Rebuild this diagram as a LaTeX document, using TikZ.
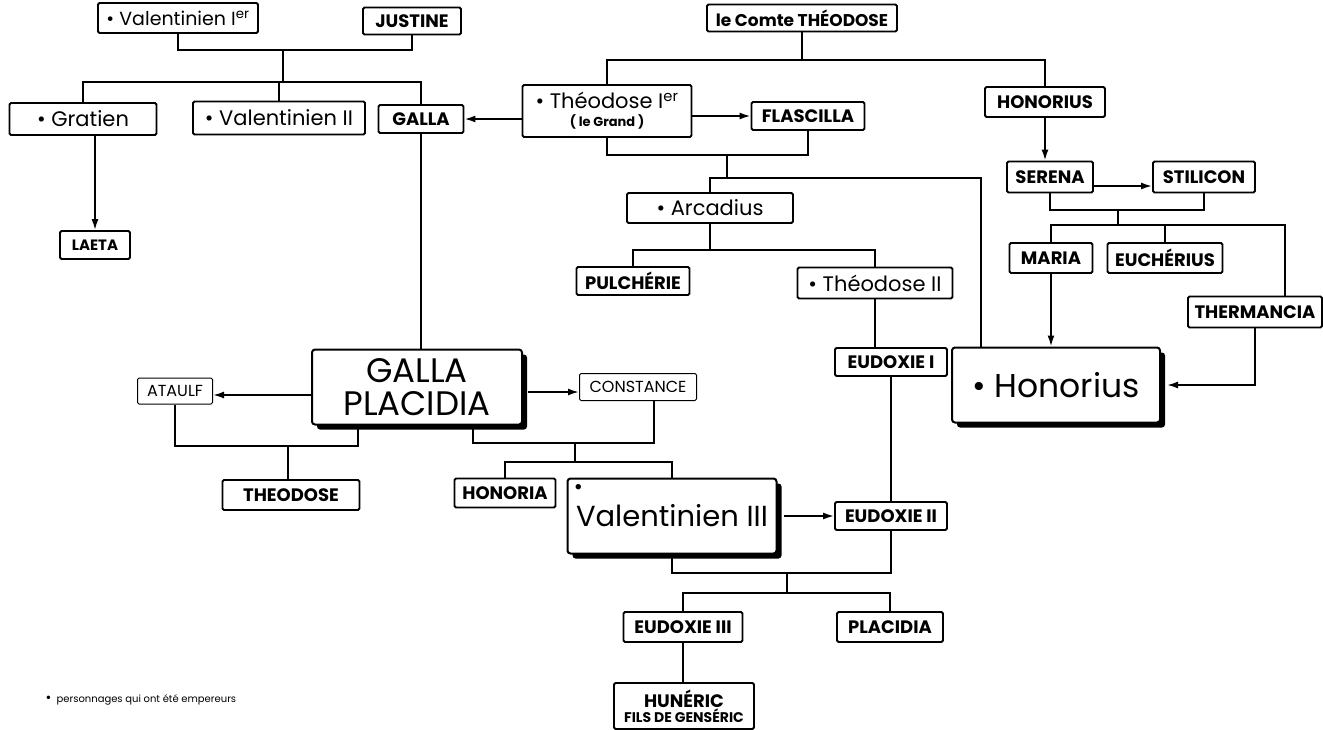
\documentclass[tikz,border=0pt]{standalone}
\usepackage{fontspec}
\setmainfont{Poppins}
\usetikzlibrary{arrows.meta,shadows,positioning}

\begin{document}
\begin{tikzpicture}[x=1pt,y=-1pt,
    person/.style={draw, line width=1.8pt, rounded corners=1.5pt, inner sep=1pt,
      font=\bfseries\fontsize{18}{19}\selectfont},
    faint/.style={person, line width=1pt, font=\fontsize{16}{17}\selectfont},
    ruler/.style={person, font=\fontsize{21}{23}\selectfont},
    bigbox/.style={draw, line width=2pt, rounded corners=3pt, fill=white, align=center,
      drop shadow={shadow xshift=5pt, shadow yshift=-5pt, fill=black, opacity=1},
      font=\fontsize{33}{34}\selectfont},
    link/.style={line width=1.8pt},
    tolink/.style={link, -{Latex[length=11pt,width=7pt]}}]
  \useasboundingbox (0,0) rectangle (1323,729);

  % first generation
  \node[ruler, minimum width=160pt, minimum height=30pt, font=\fontsize{19}{21}\selectfont] (vali) at (178,18) {\textbullet\ Valentinien I\textsuperscript{er}};
  \node[person, minimum width=98pt, minimum height=27pt] (justine) at (412,21) {JUSTINE};
  \node[person, minimum width=190pt, minimum height=27pt] (comte) at (802,18) {\fontsize{17}{18}\selectfont le Comte THÉODOSE};

  % second generation
  \node[ruler, minimum width=147pt, minimum height=32pt] (gratien) at (83,119) {\textbullet\ Gratien};
  \node[ruler, minimum width=172pt, minimum height=33pt] (valii) at (279,118) {\textbullet\ Valentinien II};
  \node[person, minimum width=85pt, minimum height=28pt] (galla) at (421,119) {GALLA};
  \node[ruler, minimum width=169pt, minimum height=52pt, align=center] (theoi) at (607,111)
    {\textbullet\ Théodose I\textsuperscript{er}\\[-5pt]{\bfseries\fontsize{13}{14}\selectfont ( le Grand )}};
  \node[person, minimum width=113pt, minimum height=28pt] (flascilla) at (808,116) {FLASCILLA};
  \node[person, minimum width=120pt, minimum height=30pt] (honoriusf) at (1045,102) {HONORIUS};
  \node[person, minimum width=70pt, minimum height=28pt, font=\bfseries\fontsize{15}{16}\selectfont] (laeta) at (95,245) {LAETA};

  % third generation
  \node[ruler, minimum width=166pt, minimum height=30pt] (arcadius) at (710,208) {\textbullet\ Arcadius};
  \node[person, minimum width=113pt, minimum height=28pt] (pulcherie) at (633,281) {PULCHÉRIE};
  \node[ruler, minimum width=155pt, minimum height=31pt] (theoii) at (875,283) {\textbullet\ Théodose II};
  \node[person, minimum width=86pt, minimum height=31pt] (serena) at (1050,177) {SERENA};
  \node[person, minimum width=102pt, minimum height=31pt] (stilicon) at (1204,177) {STILICON};
  \node[person, minimum width=83pt, minimum height=30pt] (maria) at (1051,258) {MARIA};
  \node[person, minimum width=115pt, minimum height=30pt] (eucherius) at (1165,258) {EUCHÉRIUS};
  \node[person, minimum width=134pt, minimum height=31pt] (thermancia) at (1255,312) {THERMANCIA};
  \node[person, minimum width=112pt, minimum height=28pt] (eudoxiei) at (891,362) {EUDOXIE I};

  % the three framed rulers
  \node[bigbox, minimum width=208pt, minimum height=75pt] (honorius) at (1056,385) {\textbullet\ Honorius};
  \node[bigbox, minimum width=210pt, minimum height=75pt, font=\fontsize{34}{33}\selectfont] (placidia) at (417,387) {GALLA\\PLACIDIA};
  \node[bigbox, minimum width=209pt, minimum height=75pt, font=\fontsize{29}{30}\selectfont] (valiii) at (672,516) {Valentinien III};
  \node[font=\fontsize{22}{22}\selectfont] (valiiidot) at ([xshift=12pt,yshift=-12pt]valiii.north west) {\textbullet};

  \node[faint, minimum width=75pt, minimum height=26pt] (ataulf) at (175,391) {ATAULF};
  \node[faint, minimum width=117pt, minimum height=27pt] (constance) at (638,387) {CONSTANCE};
  \node[person, minimum width=137pt, minimum height=30pt] (theodose) at (291,495) {THEODOSE};
  \node[person, minimum width=101pt, minimum height=29pt] (honoria) at (505,493) {HONORIA};
  \node[person, minimum width=112pt, minimum height=28pt] (eudoxieii) at (891,516) {EUDOXIE II};

  % last generation
  \node[person, minimum width=119pt, minimum height=30pt] (eudoxieiii) at (683,627) {EUDOXIE III};
  \node[person, minimum width=106pt, minimum height=30pt] (placidiab) at (890,627) {PLACIDIA};
  \node[person, minimum width=140pt, minimum height=46pt, align=center, inner sep=0pt] (huneric) at (684,706)
    {HUNÉRIC\\[-4pt]{\fontsize{14}{14}\selectfont FILS DE GENSÉRIC}};

  % legend
  \node[anchor=west, font=\fontsize{10}{12}\selectfont] (legend) at (42,700) {{\fontsize{14}{12}\selectfont\textbullet}\ \ personnages qui ont été empereurs};

  % Valentinien Ier and Justine
  \coordinate (m1) at (283,50);
  \coordinate (k1) at (283,82);
  \draw[link] (vali.south) |- (m1) -| (justine.south);
  \draw[link] (m1) -- (k1);
  \draw[link] (gratien.north) |- (k1) -| (galla.north);
  \draw[link] (valii.north |- k1) -- (valii.north);
  \draw[tolink] (laeta.north |- gratien.south) -- (laeta.north);

  % le Comte Théodose
  \coordinate (m2) at (802,60);
  \draw[link] (comte.south) -- (m2);
  \draw[link] (theoi.north) |- (m2) -| (honoriusf.north);

  % Théodose Ier and his wives
  \draw[tolink] (theoi.west |- galla.east) -- (galla.east);
  \draw[tolink] (theoi.east |- flascilla.west) -- (flascilla.west);
  \coordinate (m3) at (727,155);
  \coordinate (k3) at (727,178);
  \coordinate (h1) at (981,178);
  \draw[link] (theoi.south) |- (m3) -| (flascilla.south);
  \draw[link] (m3) -- (k3);
  \draw[link] (arcadius.north) |- (h1) -- (h1 |- honorius.north);

  % Arcadius
  \coordinate (k4) at (710,250);
  \draw[link] (arcadius.south) -- (k4);
  \draw[link] (pulcherie.north) |- (k4) -| (theoii.north);
  \draw[link] (theoii.south) -- (theoii.south |- eudoxiei.north);
  \draw[link] (eudoxiei.south) -- (eudoxieii.north);

  % Galla Placidia
  \draw[link] (galla.south) -- (galla.south |- placidia.north);
  \draw[tolink] ([yshift=-8pt]placidia.west) -- ([yshift=-8pt]placidia.west -| ataulf.east);
  \draw[tolink] ([xshift=5pt,yshift=-5pt]placidia.east) -- ([yshift=-5pt]placidia.east -| constance.west);
  \coordinate (m5) at (288,446);
  \coordinate (p1) at (358,446);
  \draw[link] (ataulf.south) |- (p1) -- (p1 |- placidia.south);
  \draw[link] (m5) -- (m5 |- theodose.north);
  \coordinate (p2) at (473,443);
  \coordinate (p3) at (654,443);
  \coordinate (m6) at (575,443);
  \coordinate (k6) at (575,462);
  \draw[link] (p2 |- placidia.south) -- (p2) -- (p3) -- (p3 |- constance.south);
  \draw[link] (m6) -- (k6);
  \draw[link] (honoria.north) |- (k6) -| (valiii.north);

  % Valentinien III
  \draw[tolink] ([xshift=6pt]valiii.east |- eudoxieii.west) -- (eudoxieii.west);
  \coordinate (m7) at (787,573);
  \coordinate (k7) at (787,593);
  \draw[link] (valiii.south) |- (m7) -| (eudoxieii.south);
  \draw[link] (m7) -- (k7);
  \draw[link] (eudoxieiii.north) |- (k7) -| (placidiab.north);
  \draw[link] (eudoxieiii.south) -- (eudoxieiii.south |- huneric.north);

  % Honorius, Serena and Stilicon
  \draw[tolink] (honoriusf.south) -- (honoriusf.south |- serena.north);
  \draw[tolink] ([yshift=-9pt]serena.east) -- ([yshift=-9pt]stilicon.west);
  \coordinate (m8) at (1118,210);
  \coordinate (k8) at (1118,225);
  \coordinate (t1) at (1285,225);
  \draw[link] (serena.south) |- (m8) -| (stilicon.south);
  \draw[link] (m8) -- (k8);
  \draw[link] (maria.north) |- (t1) -- (t1 |- thermancia.north);
  \draw[link] (eucherius.north |- k8) -- (eucherius.north);
  \draw[tolink] (maria.south) -- (maria.south |- honorius.north);
  \draw[tolink] (thermancia.south) |- ([xshift=6pt]honorius.east);
\end{tikzpicture}
\end{document}
